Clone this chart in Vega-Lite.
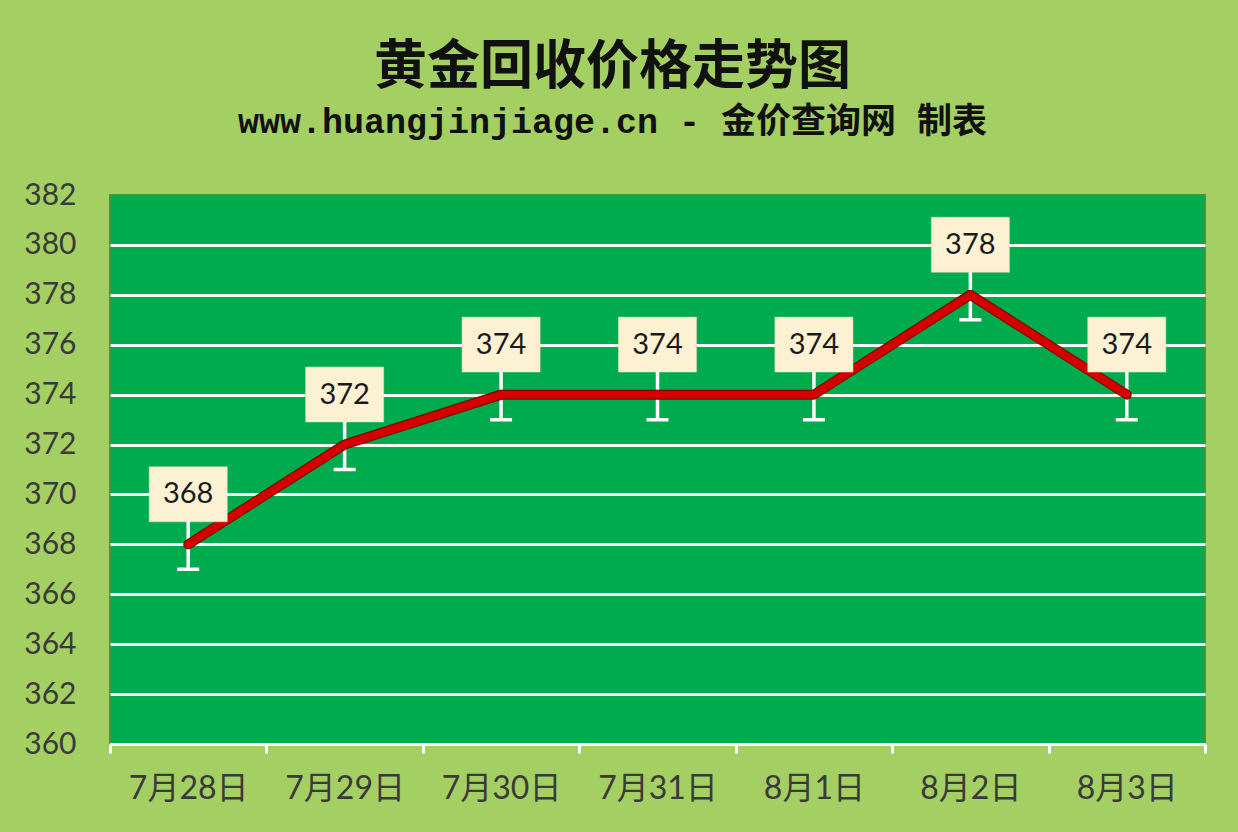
{
  "$schema": "https://vega.github.io/schema/vega-lite/v6.json",
  "autosize": "none",
  "width": 1095,
  "height": 549,
  "padding": {"left": 110, "top": 195, "right": 33, "bottom": 88},
  "background": "#a4cf63",
  "title": {
    "text": "黄金回收价格走势图",
    "subtitle": "www.huangjinjiage.cn - 金价查询网 制表",
    "anchor": "middle",
    "dx": -45,
    "offset": 40,
    "font": "Noto Sans CJK SC",
    "fontSize": 53,
    "fontWeight": "bold",
    "color": "#111111",
    "subtitleFont": "Liberation Mono, Noto Sans CJK SC",
    "subtitleFontSize": 35,
    "subtitleFontWeight": "bold",
    "subtitleColor": "#111111",
    "subtitlePadding": 10
  },
  "data": {
    "values": [
      {"date": "7月28日", "price": 368},
      {"date": "7月29日", "price": 372},
      {"date": "7月30日", "price": 374},
      {"date": "7月31日", "price": 374},
      {"date": "8月1日", "price": 374},
      {"date": "8月2日", "price": 378},
      {"date": "8月3日", "price": 374}
    ]
  },
  "encoding": {
    "x": {
      "field": "date",
      "type": "nominal",
      "sort": null,
      "scale": {"paddingInner": 0, "paddingOuter": 0},
      "axis": {
        "title": null,
        "labelAngle": 0,
        "labelFont": "Lato, Noto Sans CJK SC",
        "labelFontSize": 32,
        "labelColor": "#3a3a3a",
        "labelPadding": 20,
        "domainColor": "#ffffff",
        "domainWidth": 3,
        "tickBand": "extent",
        "tickColor": "#ffffff",
        "tickWidth": 3,
        "tickSize": 9,
        "grid": false
      }
    },
    "y": {
      "field": "price",
      "type": "quantitative",
      "scale": {"domain": [360, 382], "nice": false, "zero": false},
      "axis": {
        "title": null,
        "values": [360, 362, 364, 366, 368, 370, 372, 374, 376, 378, 380, 382],
        "labelFont": "Lato",
        "labelFontSize": 30,
        "labelColor": "#3a3a3a",
        "labelPadding": 34,
        "domain": false,
        "ticks": false,
        "grid": true,
        "gridColor": "#ffffff",
        "gridWidth": 3,
        "gridOpacity": {"condition": {"test": "datum.value == 382", "value": 0}, "value": 0.95}
      }
    }
  },
  "layer": [
    {
      "mark": {
        "type": "point",
        "shape": "M0,-1 V1 M-0.44,1 H0.44",
        "size": 2500,
        "filled": false,
        "stroke": "#ffffff",
        "strokeWidth": 3.5,
        "opacity": 1
      }
    },
    {
      "mark": {
        "type": "line",
        "color": "#8a0000",
        "strokeWidth": 10,
        "strokeCap": "round",
        "strokeJoin": "round"
      }
    },
    {
      "mark": {
        "type": "line",
        "color": "#d40000",
        "strokeWidth": 7.5,
        "strokeCap": "round",
        "strokeJoin": "round"
      }
    },
    {
      "mark": {
        "type": "point",
        "shape": "M-1.42,-2.82 H1.42 V-0.82 H-1.42 Z",
        "size": 3025,
        "filled": true,
        "fill": "#fdf1d4",
        "stroke": "#e8dcc0",
        "strokeWidth": 0.5,
        "opacity": 1
      }
    },
    {
      "mark": {
        "type": "text",
        "dy": -50,
        "font": "Lato",
        "fontSize": 29,
        "color": "#1a1a1a"
      },
      "encoding": {"text": {"field": "price", "type": "quantitative"}}
    }
  ],
  "config": {
    "view": {"fill": "#00ab4e", "stroke": "#3d9a3a", "strokeWidth": 2}
  }
}
